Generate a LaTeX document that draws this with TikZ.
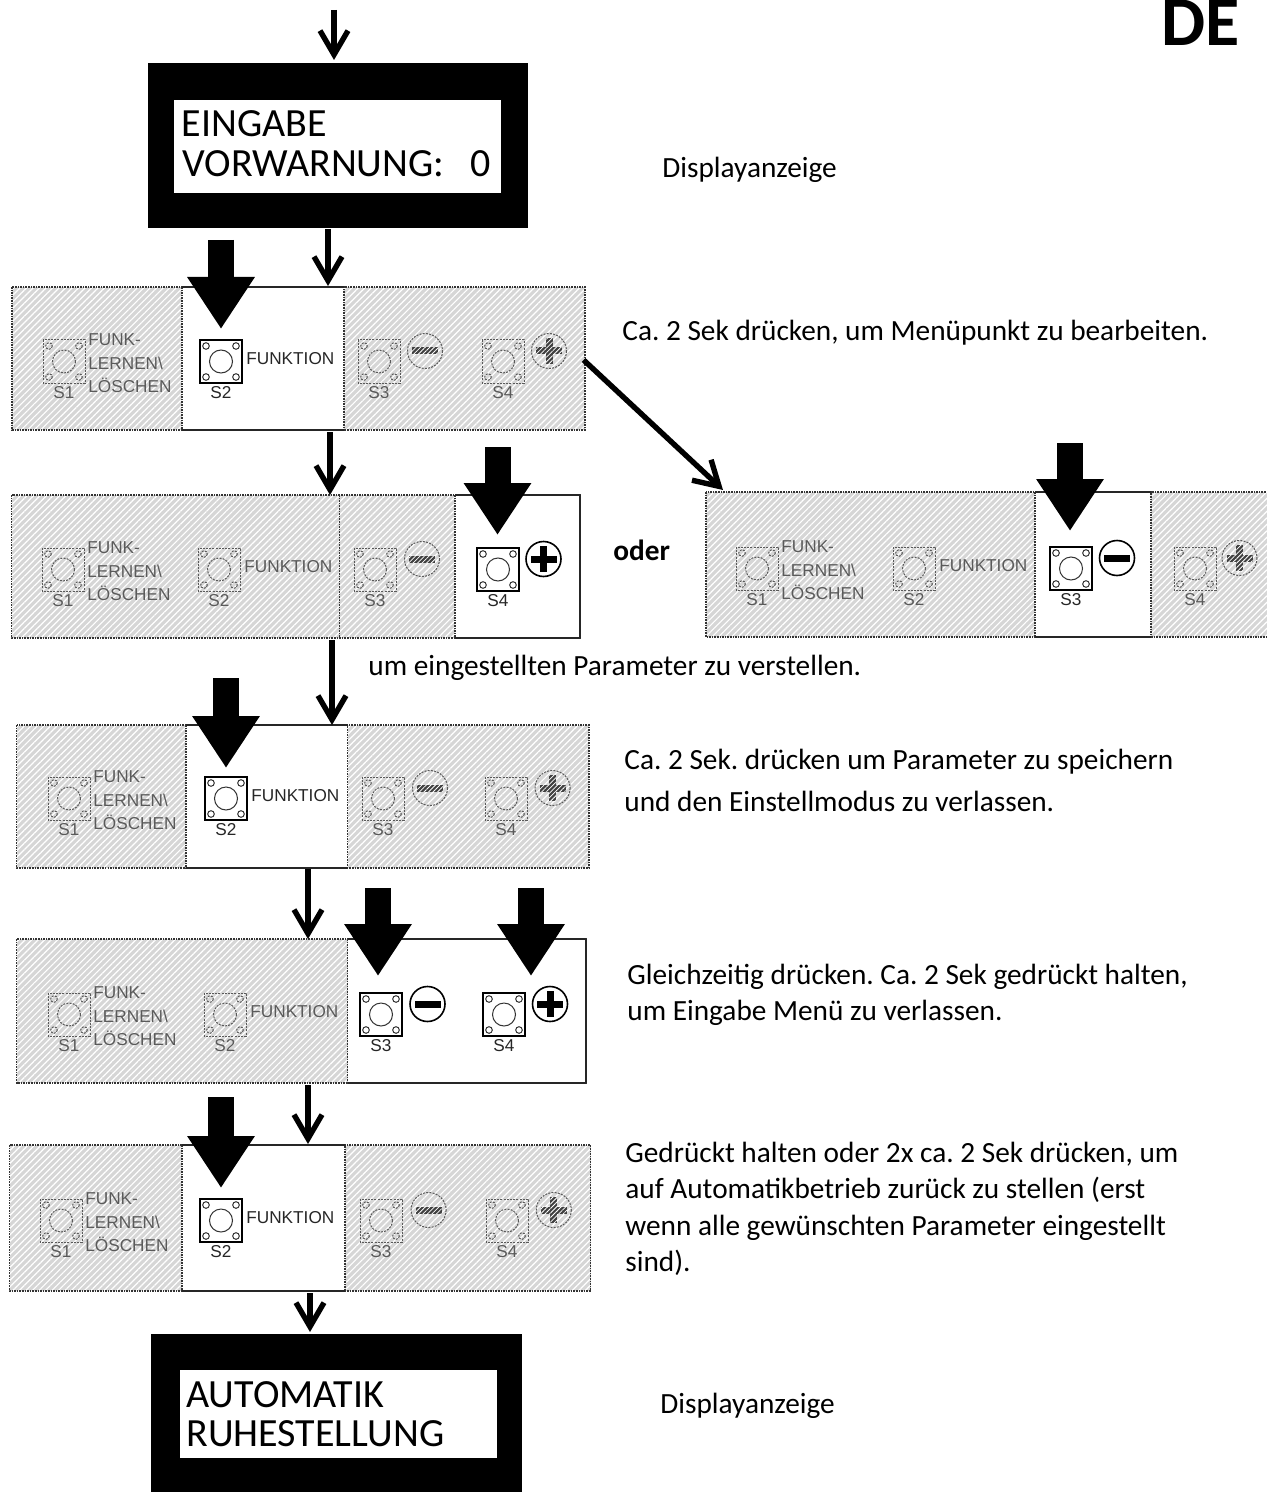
\documentclass[tikz,border=0pt]{standalone}
\usepackage{fontspec}
\setmainfont{Carlito}
\newfontfamily\tastenfont{Liberation Sans}
\usetikzlibrary{arrows.meta}
\usetikzlibrary{patterns.meta}
\definecolor{feldgrau}{HTML}{D6D6D6}
\definecolor{tastegrau}{HTML}{5A5A5A}
\tikzset{
    hatchfeld/.style={preaction={fill=feldgrau},pattern={Lines[angle=45,distance=2.3pt,line width=0.6pt]},pattern color=white},
    punktrand/.style={draw=black!80,line width=0.7pt,dash pattern=on 0.8pt off 0.5pt},
    vollrand/.style={draw=black!85,line width=1pt},
    tastean/.style={draw=black,line width=0.8pt},
    tasteaus/.style={draw=tastegrau,line width=0.5pt,dash pattern=on 1pt off 0.6pt},
    innenan/.style={draw=black!80,line width=0.5pt},
    innenaus/.style={draw=tastegrau,line width=0.5pt,dash pattern=on 1pt off 0.6pt},
    textan/.style={text=black!85,inner sep=0pt,font=\tastenfont\fontsize{8.6}{10}\selectfont},
    textaus/.style={text=tastegrau,inner sep=0pt,font=\tastenfont\fontsize{8.6}{10}\selectfont},
    zeichenan/.style={fill=black},
    zeichenaus/.style={preaction={fill=black!75},pattern={Lines[angle=45,distance=1.6pt,line width=0.4pt]},pattern color=white},
    randan/.style={draw=black,line width=0.8pt},
    randaus/.style={draw=tastegrau,line width=0.5pt,dash pattern=on 1pt off 0.6pt},
    duennpfeil/.style={line width=2.7pt,-{Straight Barb[length=12pt,width=14pt,line width=2.7pt]}},
    druckpfeil/.style={line width=13pt,-{Triangle[length=26pt,width=32pt]}},
    lcdrahmen/.style={fill=black,inner sep=0pt,anchor=north west},
    lcdfeld/.style={fill=white,inner sep=0pt,anchor=north west},
    lcdtext/.style={inner sep=0pt,anchor=base west,font=\fontsize{20}{22}\selectfont},
    hinweis/.style={inner sep=0pt,anchor=base west,font=\fontsize{14.65}{17}\selectfont\frenchspacing},
}
% one push button with its name below
\newcommand{\taste}[5]{
    \draw[taste#3] (#1,#2) rectangle ++(42,43);
    \draw[innen#3] (#1+21,#2+21.5) circle (11.5);
    \foreach \ex/\ey in {6/6,36/6,6/37,36/37}{\draw[innen#3] (#1+\ex,#2+\ey) circle (3.3);}
    \node[text#3] (#5) at (#1+21,#2+53) {#4};
}
\newcommand{\minuszeichen}[3]{
    \draw[rand#3] (#1,#2) circle (17.5);
    \path[zeichen#3] (#1-13,#2-3.5) rectangle (#1+13,#2+3.5);
}
\newcommand{\pluszeichen}[3]{
    \draw[rand#3] (#1,#2) circle (17.5);
    \path[zeichen#3] (#1-13,#2-3.5) rectangle (#1+13,#2+3.5);
    \path[zeichen#3] (#1-3.5,#2-13) rectangle (#1+3.5,#2+13);
}
\begin{document}
\begin{tikzpicture}[x=0.5pt,y=-0.5pt]
    \useasboundingbox (0,0) rectangle (1267,1492);
    \clip (0,0) rectangle (1267,1492);
    % displays
    \node[lcdrahmen,minimum width=190.2pt,minimum height=82.7pt] (lcdA) at (147.3,62.7) {};
    \node[lcdfeld,minimum width=163.5pt,minimum height=46.7pt] (lcdAfeld) at (174,99.3) {};
    \node[lcdtext] (lcdAzeile) at (181.5,137) {EINGABE};
    \node[lcdtext] (lcdAwert) at (182,176.7) {VORWARNUNG:\hspace{13pt}0};
    \node[lcdrahmen,minimum width=185.5pt,minimum height=79pt] (lcdB) at (151,1334) {};
    \node[lcdfeld,minimum width=158.5pt,minimum height=44pt] (lcdBfeld) at (180,1370) {};
    \node[lcdtext] (lcdBzeile) at (186,1407) {AUTOMATIK};
    \node[lcdtext] (lcdBwert) at (186,1446) {RUHESTELLUNG};
    % hatched panels with the free key field
    \foreach \fl/\ft/\fr/\fb/\wl/\wr in {12/287/585/430/182/344,
        11.5/495/580/638/455/580, 706/492/1275/637/1035/1151,
        16.5/725/589/868/186/347.5, 16.5/939/586/1083/347.5/586,
        9.5/1145/590.5/1291/182/345}{
        \path[hatchfeld] (\fl,\ft) rectangle (\fr,\fb);
        \path[punktrand] (\fl,\ft) rectangle (\fr,\fb);
        \fill[white] (\wl,\ft) rectangle (\wr,\fb);
        \path[punktrand] (\wl,\ft) rectangle (\wr,\fb);
        \draw[vollrand] (\wl,\ft) -- (\wr,\ft) (\wl,\fb) -- (\wr,\fb);
    }
    \draw[vollrand] (580,495) -- (580,638);
    \draw[vollrand] (586,939) -- (586,1083);
    \draw[punktrand] (339.5,495) -- (339.5,638);
    % keys
    \foreach \zl/\yq/\xa/\xb/\xc/\xd/\cm/\cp/\sa/\sb/\sc/\sd in {
        A/340/43/200/358/482/425/549/aus/an/aus/aus,
        B/548/42/198/354/477/422/543.5/aus/aus/aus/an,
        C/547/736/893/1050/1174/1117/1239.5/aus/aus/an/aus,
        D/777/48/205/362/485/430/552.6/aus/an/aus/aus,
        E/993/48/204/360/483/427.5/550/aus/aus/an/an,
        F/1199/40/200/360/486/428.6/553.8/aus/an/aus/aus}{
        \taste{\xa}{\yq}{\sa}{S1}{sA\zl}
        \taste{\xb}{\yq}{\sb}{S2}{sB\zl}
        \taste{\xc}{\yq}{\sc}{S3}{sC\zl}
        \taste{\xd}{\yq}{\sd}{S4}{sD\zl}
        \minuszeichen{\cm}{\yq+11}{\sc}
        \pluszeichen{\cp}{\yq+11}{\sd}
        \node[text\sa,anchor=west] (funk\zl) at (\xa+45,\yq) {FUNK-};
        \node[text\sa,anchor=west] (lernen\zl) at (\xa+45,\yq+23) {LERNEN\textbackslash};
        \node[text\sa,anchor=west] (loeschen\zl) at (\xa+45,\yq+45) {LÖSCHEN};
        \node[text\sb,anchor=west] (funktion\zl) at (\xb+46,\yq+19) {FUNKTION};
    }
    % thin arrows
    \coordinate (startA) at (334,10);
    \coordinate (einA) at (334,60);
    \coordinate (einB) at (328,286);
    \coordinate (ausB) at (330,432);
    \coordinate (einC) at (330,495);
    \coordinate (ausC) at (332,640);
    \coordinate (einD) at (332,725);
    \coordinate (ausD) at (308,869);
    \coordinate (einE) at (308,939);
    \coordinate (ausE) at (308,1085);
    \coordinate (einF) at (308,1144);
    \coordinate (ausF) at (310,1293);
    \coordinate (einG) at (310,1332);
    \coordinate (abzweig) at (583.6,360);
    \coordinate (einR) at (723,490);
    \draw[duennpfeil] (startA) -- (einA);
    \draw[duennpfeil] (lcdA.south -| einB) -- (einB);
    \foreach \von/\nach in {ausB/einC,ausC/einD,ausD/einE,ausE/einF,ausF/einG,abzweig/einR}{
        \draw[duennpfeil] (\von) -- (\nach);
    }
    % big push arrows
    \foreach \px/\py/\zx/\zy in {221/240/221/329, 497.5/447/497.5/535, 1070/443/1070/531,
        226/678/226/768, 378/888/378/976, 531/888/531/976, 221/1097/221/1188}{
        \coordinate (pfeilvon) at (\px,\py);
        \coordinate (pfeilbis) at (\zx,\zy);
        \draw[druckpfeil] (pfeilvon) -- (pfeilbis);
    }
    % notes on the right
    \node[inner sep=0pt,anchor=base east,font=\bfseries\fontsize{35}{37}\selectfont] (kennung) at (1240,45.5) {DE};
    \node[hinweis] (anzeigeA) at (662,178) {Displayanzeige};
    \node[hinweis] (notizA) at (622,341) {Ca. 2 Sek drücken, um Menüpunkt zu bearbeiten.};
    \node[hinweis,font=\bfseries\fontsize{14.65}{17}\selectfont] (oder) at (613,560) {oder};
    \node[hinweis] (notizB) at (368,675) {um eingestellten Parameter zu verstellen.};
    \node[hinweis] (notizC) at (624,769) {Ca. 2 Sek. drücken um Parameter zu speichern};
    \node[hinweis] (notizCb) at (624,811) {und den Einstellmodus zu verlassen.};
    \node[hinweis] (notizD) at (627,984) {Gleichzeitig drücken. Ca. 2 Sek gedrückt halten,};
    \node[hinweis] (notizDb) at (627,1020) {um Eingabe Menü zu verlassen.};
    \node[hinweis] (notizE) at (625,1162) {Gedrückt halten oder 2x ca. 2 Sek drücken, um};
    \node[hinweis] (notizEb) at (625,1198) {auf Automatikbetrieb zurück zu stellen (erst};
    \node[hinweis] (notizEc) at (625,1235) {wenn alle gewünschten Parameter eingestellt};
    \node[hinweis] (notizEd) at (625,1271) {sind).};
    \node[hinweis] (anzeigeB) at (660,1413) {Displayanzeige};
\end{tikzpicture}
\end{document}
